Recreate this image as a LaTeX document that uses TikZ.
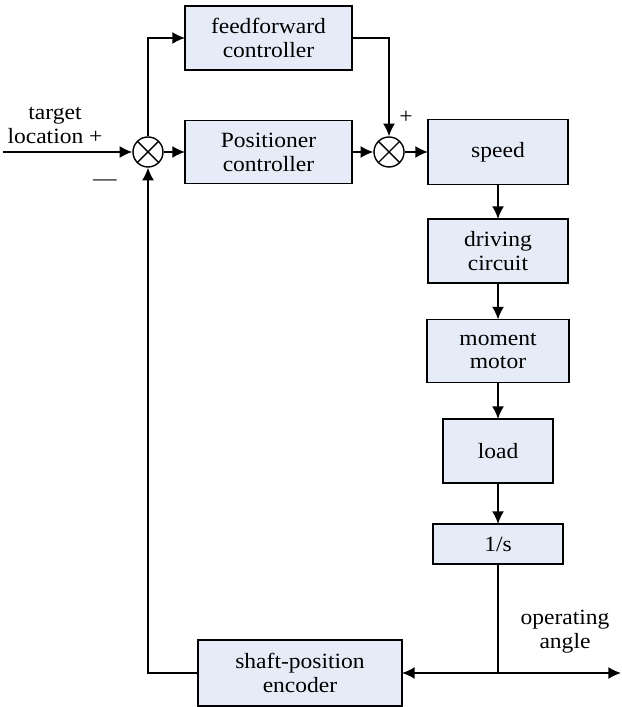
\documentclass[tikz,border=0pt]{standalone}
\usepackage{fontspec}
\setmainfont{Liberation Serif}[FakeStretch=1.08]
\usetikzlibrary{arrows.meta}

\definecolor{boxfill}{RGB}{230,236,247}

\begin{document}
\begin{tikzpicture}[
    , font = \fontsize{15.5}{17}\selectfont
    , block/.style = {rectangle,draw=black,fill=boxfill,line width=1.3pt,align=center,inner sep=0pt,outer sep=0mm}
    , summer/.style = {circle,draw=black,line width=1pt,minimum size=0.75cm,inner sep=0pt,
        path picture={\draw[line width=1pt] (path picture bounding box.north west) -- (path picture bounding box.south east)
                      (path picture bounding box.south west) -- (path picture bounding box.north east);}}
    , arr/.style = {line width=1.2pt,-{Latex[length=9pt,width=8.5pt]}}
    , line/.style = {line width=1.2pt}
]
\useasboundingbox (0,0) rectangle (15.525,17.675);

% forward path
\node[summer] (sum1) at (3.70,13.875) {};
\node[summer] (sum2) at (9.725,13.875) {};
\node[block,minimum width=4.175cm,minimum height=1.6cm] (ff) at (6.7125,16.725) {feedforward\\controller};
\node[block,minimum width=4.175cm,minimum height=1.575cm] (pos) at (6.7125,13.875) {Positioner\\controller};

% plant column
\node[block,minimum width=3.5cm,minimum height=1.625cm] (speed) at (12.45,13.875) {speed};
\node[block,minimum width=3.5cm,minimum height=1.6cm] (drive) at (12.45,11.4) {driving\\circuit};
\node[block,minimum width=3.55cm,minimum height=1.575cm] (motor) at (12.45,8.9) {moment\\motor};
\node[block,minimum width=2.75cm,minimum height=1.6cm] (load) at (12.45,6.4) {load};
\node[block,minimum width=3.25cm,minimum height=1.0cm] (integ) at (12.45,4.075) {1/s};

% feedback
\node[block,minimum width=5.1cm,minimum height=1.65cm] (enc) at (7.5,0.85) {shaft-position\\encoder};

\coordinate (in) at (0.075,13.875);
\coordinate (tap) at (12.45,0.85);
\coordinate (out) at (15.525,0.85);

% labels
\node[align=center,anchor=south] (target) at (1.375,13.95) {target\\location +};
\node (minus) at (2.625,13.1) {—};
\node (plus) at (10.15,14.75) {+};
\node[align=center] (angle) at (14.125,1.875) {operating\\angle};

\draw[arr] (in) -- (sum1);
\draw[arr] (sum1) -- (pos);
\draw[arr] (sum1) |- (ff);
\draw[arr] (ff) -| (sum2);
\draw[arr] (pos) -- (sum2);
\draw[arr] (sum2) -- (speed);
\foreach \a/\b in {speed/drive, drive/motor, motor/load, load/integ}
    \draw[arr] (\a) -- (\b);
\draw[line] (integ) -- (tap);
\draw[arr] (tap) -- (enc);
\draw[arr] (tap) -- (out);
\draw[arr] (enc) -| (sum1);
\end{tikzpicture}
\end{document}
